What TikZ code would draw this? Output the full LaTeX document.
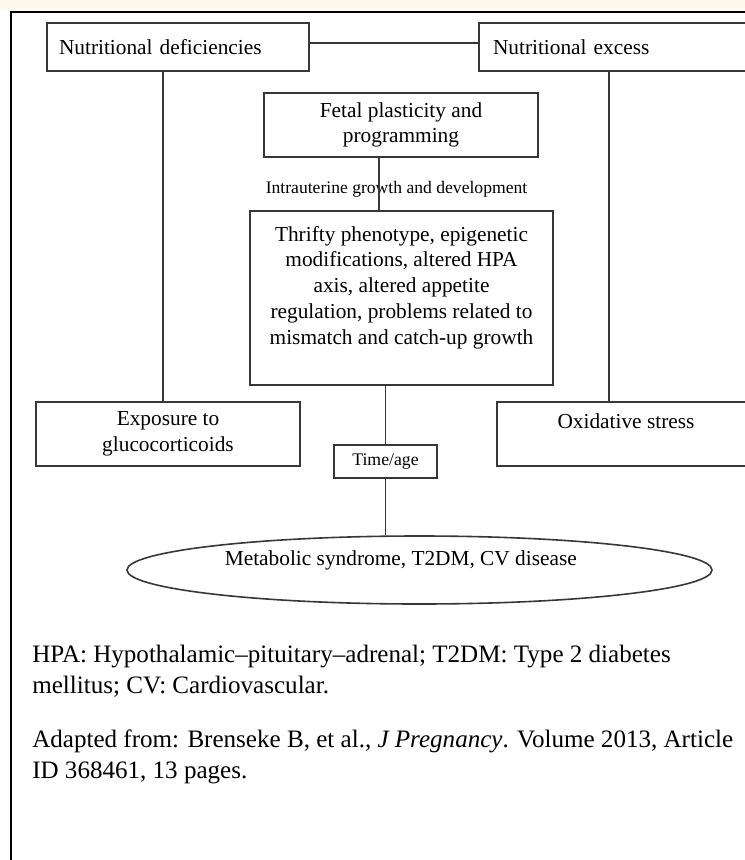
\documentclass[tikz,border=0pt]{standalone}
\usepackage{fontspec}
\setmainfont{Liberation Serif}
\usetikzlibrary{shapes.geometric, positioning, calc}
\usepackage{xcolor}

\definecolor{edgegray}{RGB}{55,55,55}
\definecolor{topband}{RGB}{253,249,236}

\begin{document}
\begin{tikzpicture}[
        x=0.75pt, y=-0.75pt,
        box/.style={rectangle, draw=edgegray, line width=1.2pt, inner sep=0pt, align=center, font=\fontsize{16}{19.3}\selectfont},
        tagbox/.style={rectangle, draw=edgegray, line width=1.2pt, inner sep=0pt, font=\fontsize{13.3}{15}\selectfont},
        outcome/.style={ellipse, draw=edgegray, line width=1.2pt, inner sep=0pt, font=\fontsize{16}{19.3}\selectfont},
        link/.style={draw=edgegray, line width=1.2pt},
        note/.style={anchor=north west, inner sep=0pt, align=left, font=\fontsize{18.8}{22.9}\selectfont}
    ]
        \useasboundingbox (0,0) rectangle (745,860);
        \clip (0,0) rectangle (745,860);
        \fill[topband] (0,0) rectangle (745,9);
        \draw[line width=1.5pt] (11,12) rectangle (770,890);

        % causes
        \node [box, minimum width=196.5pt, minimum height=36pt, text width=178.5pt, align=left] (defic) at (178,47) {Nutritional deficiencies};
        \node [box, minimum width=207pt, minimum height=36pt, text width=186pt, align=left] (excess) at (617,47) {Nutritional excess};

        \node [box, minimum width=205.5pt, minimum height=48pt] (fetal) at (401,125) {Fetal plasticity and\\programming};
        \node [inner sep=0pt, font=\fontsize{13.2}{15}\selectfont] (growth) at (396.5,189) {Intrauterine growth and development};
        \node [box, minimum width=227.25pt, minimum height=130.5pt] (thrifty) at (401.5,298) {Thrifty phenotype, epigenetic\\modifications, altered HPA\\axis, altered appetite\\regulation, problems related to\\mismatch and catch-up growth\\\mbox{}};

        \node [box, minimum width=198pt, minimum height=48pt] (expo) at (168,434) {Exposure to\\glucocorticoids};
        \node [box, minimum width=193.5pt, minimum height=48pt] (oxid) at (626,434) {Oxidative stress\\\mbox{}};
        \node [tagbox, minimum width=77.25pt, minimum height=24.75pt] (timeage) at (385.5,461.5) {Time/age};

        % outcome
        \node [outcome, minimum width=438.75pt, minimum height=51pt,
            label={[font=\fontsize{16}{19.3}\selectfont, xshift=-14pt, yshift=7pt]center:Metabolic syndrome, T2DM, CV disease}] (metab) at (419.5,570) {};

        \coordinate (leftdrop) at (163,0);
        \coordinate (rightdrop) at (609,0);
        \coordinate (stem) at (379,0);

        \draw [link] ([yshift=3pt]defic.east) -- ([yshift=3pt]excess.west);
        \draw [link] (defic.south -| leftdrop) -- (expo.north -| leftdrop);
        \draw [link] (excess.south -| rightdrop) -- (oxid.north -| rightdrop);
        \draw [link] (fetal.south -| stem) -- (thrifty.north -| stem);
        \draw [link] (thrifty.south -| timeage) -- (timeage.north);
        \draw [link] (timeage.south) -- (timeage.south |- metab.north);

        \node [note] (abbrev) at (32,645) {HPA: Hypothalamic–pituitary–adrenal; T2DM: Type 2 diabetes\\mellitus; CV: Cardiovascular.};
        \node [note] (source) at (32,730) {Adapted from: Brenseke B, et al., \textit{J Pregnancy}. Volume 2013, Article\\ID 368461, 13 pages.};
\end{tikzpicture}
\end{document}
